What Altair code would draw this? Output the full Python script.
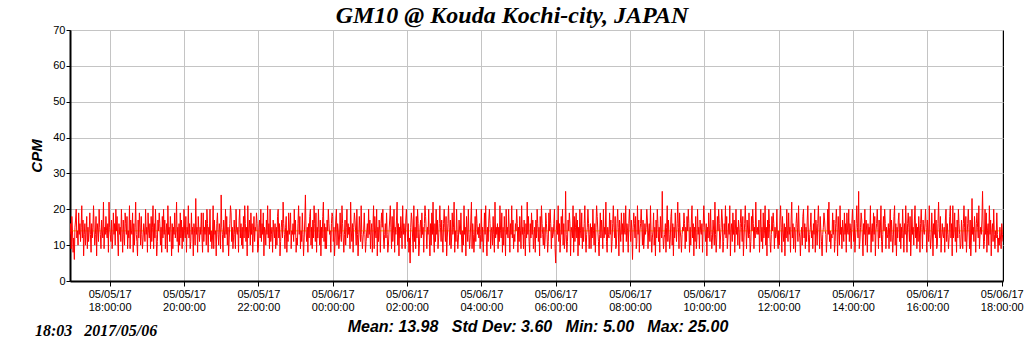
import altair as alt
import pandas as pd

# ---- data (counts per minute) ----
start_time = "2017-05-05 16:56:00"
step_minutes = 1
cpm = [
    13,16,9,18,14,8,12,6,15,17,20,12,14,10,19,13,16,11,15,21,12,17,7,13,16,10,14,18,9,15,
    11,14,19,13,8,16,12,15,21,14,10,13,18,7,16,14,11,20,15,13,9,17,14,12,22,9,15,13,18,14,
    12,16,8,22,15,13,11,17,9,12,19,13,16,10,20,14,18,12,7,16,13,15,11,20,14,8,17,13,10,19,
    16,13,18,9,14,12,21,9,17,14,13,19,8,16,10,15,22,13,11,7,17,12,19,15,10,18,13,9,12,16,
    14,11,20,13,15,8,19,14,12,16,9,18,11,15,21,9,16,12,20,13,7,11,17,14,19,16,10,15,8,18,
    12,20,13,17,9,14,16,8,21,13,15,11,18,14,7,16,9,15,13,19,12,14,22,11,15,8,16,10,19,12,
    17,9,15,11,20,14,12,18,8,15,13,21,12,16,9,11,19,13,15,7,16,14,10,23,13,15,8,18,14,11,
    15,13,19,12,8,19,11,15,13,17,10,20,16,8,15,13,20,11,14,9,12,21,9,17,13,14,7,16,19,13,
    10,16,14,9,24,15,13,8,17,14,12,20,13,18,10,15,7,12,16,21,19,11,15,9,12,17,13,9,20,14,
    13,15,8,17,20,12,16,10,15,9,18,12,21,16,11,15,7,21,12,14,17,10,19,13,16,8,14,18,11,15,
    14,19,16,8,9,15,17,12,20,11,16,13,19,7,15,14,10,17,13,21,12,16,9,20,11,13,15,8,17,14,
    12,16,9,15,10,18,20,12,16,7,11,15,17,12,22,16,13,9,15,18,8,14,11,19,13,15,19,9,14,13,
    16,11,20,13,17,8,12,10,16,21,13,18,9,14,11,19,13,7,12,17,24,14,11,15,8,16,12,18,20,10,
    15,9,17,12,21,16,11,19,8,15,12,20,14,10,17,7,15,12,18,22,11,16,9,15,9,17,14,20,16,13,
    14,8,16,19,18,11,15,7,12,17,20,10,16,14,9,12,19,13,11,21,16,12,8,13,17,10,15,20,12,16,
    13,15,9,22,14,11,16,8,15,19,17,14,10,20,13,7,12,18,14,11,21,13,9,12,14,19,13,8,11,14,
    16,12,20,13,17,9,14,16,8,15,21,9,18,14,12,20,7,15,11,17,14,8,16,19,15,20,12,9,13,16,
    12,19,13,8,10,14,17,21,15,9,18,11,14,20,8,15,13,17,22,10,16,7,15,12,18,14,9,21,13,16,
    14,9,17,20,15,11,16,8,12,5,15,19,17,12,8,21,11,15,9,18,12,20,16,7,10,15,17,12,19,13,
    15,8,16,21,18,14,9,15,13,20,12,7,16,10,19,13,22,12,8,16,11,20,13,17,9,12,16,21,15,11,
    17,12,8,16,20,15,11,18,7,12,16,21,15,10,17,9,12,19,13,15,22,8,14,11,20,13,9,12,17,14,
    13,19,12,8,14,10,21,13,15,7,18,14,11,20,13,9,12,17,22,9,16,13,8,12,18,11,20,16,13,15,
    12,16,9,13,20,11,15,8,12,19,13,21,12,7,15,11,17,20,16,9,14,15,10,18,13,8,22,12,15,13,
    16,9,15,11,21,14,12,19,8,15,10,18,14,7,20,13,15,12,20,14,8,16,13,21,12,17,9,13,11,16,
    14,20,16,8,15,11,18,14,9,21,13,15,9,17,13,7,16,12,22,13,18,11,8,16,12,19,13,17,9,12,
    15,8,17,12,20,16,11,15,7,18,12,21,16,13,10,15,9,12,19,16,13,8,11,19,14,20,16,9,15,12,
    13,16,20,9,5,14,17,13,21,11,16,8,12,18,13,20,10,16,9,12,25,13,8,11,17,14,19,16,7,15,
    14,12,21,8,18,11,15,19,12,17,7,15,10,20,14,12,19,9,15,11,16,21,12,8,13,15,20,16,9,13,
    16,9,15,12,20,14,10,16,8,15,21,18,14,11,7,13,19,12,17,14,9,20,12,15,13,22,11,8,15,13,
    12,19,13,17,8,11,16,21,15,12,18,9,10,16,20,15,7,17,14,11,19,13,16,8,19,14,13,21,11,16,
    14,8,16,20,15,11,17,14,6,15,19,16,12,18,9,11,21,13,17,8,14,16,20,15,10,17,9,12,16,13,
    15,20,17,9,14,16,11,21,13,8,12,14,19,10,15,7,17,12,20,16,11,15,8,18,14,12,25,13,9,12,
    13,16,8,15,21,11,17,13,9,12,18,20,10,16,7,15,12,19,14,11,16,22,15,9,19,14,12,8,13,15,
    14,19,16,9,15,11,18,14,20,16,8,15,10,17,21,12,16,7,15,11,18,9,12,20,13,15,9,17,14,13,
    16,8,15,21,17,14,11,16,7,15,12,19,14,11,20,13,9,12,17,14,10,22,13,8,12,18,14,20,16,9,
    12,15,20,17,8,11,16,13,21,12,18,9,12,16,13,21,7,14,16,11,19,13,17,8,14,20,13,15,10,17,
    14,9,16,20,15,11,18,7,12,16,21,15,9,17,14,12,19,13,8,11,18,14,20,16,9,15,12,22,14,13,
    15,13,17,8,14,20,11,15,9,19,12,14,21,10,15,7,17,12,20,16,11,8,13,18,14,19,16,9,15,12,
    13,20,12,9,14,10,17,21,15,8,18,14,11,16,7,15,12,20,14,11,19,13,15,8,17,22,12,16,9,15,
    14,8,16,19,15,11,21,14,12,7,13,15,10,18,20,12,16,9,15,11,17,21,12,8,13,15,19,12,14,9,
    16,13,20,8,17,14,10,16,21,15,9,18,14,11,7,13,15,19,17,14,13,8,12,20,13,22,11,14,9,13,
    12,19,13,17,8,11,16,20,15,7,18,14,10,21,13,15,9,17,14,11,19,13,16,8,19,14,13,20,11,16,
    14,9,16,20,15,11,17,8,12,16,21,15,12,25,9,11,15,19,17,12,7,16,13,20,10,17,14,8,16,13,
    15,13,21,8,14,16,11,19,13,18,7,14,16,20,15,9,17,12,14,21,11,8,13,18,14,20,16,9,15,12,
    13,16,9,15,20,11,17,13,8,12,18,21,10,16,7,15,12,17,19,11,16,9,15,12,20,14,8,16,13,21,
    14,8,16,19,15,11,18,7,12,20,13,15,10,17,21,12,16,9,15,11,18,14,8,16,20,15,9,17,14,13,
    16,20,15,8,17,14,11,21,13,9,12,19,14,7,16,13,20,12,17,9,10,16,22,15,12,18,8,12,16,13,
    12,15,8,17,20,11,16,13,9,12,18,21,12,16,7,21,12,14,19,11,15,8,17,12,20,16,13,9,10,17,
    14,9,16,21,15,11,18,8,12,16,20,15,9,17,7,12,23,13,15,11,18,14,8,16,19,15,12,21,9,13,
    15,13,17,25,14,9,11,20,13,19,8,14,16,10,21,13,17,7,14,16,11,20,13,9,14,12,19,13,8,12,
    10,15,12,9,16,13,11,
]
mean_value = [13.98]
NB = "\u00a0\u00a0\u00a0"
title_text = ["GM10 @ Kouda Kochi-city, JAPAN"]
stamp_text = ["18:03" + NB + "2017/05/06"]
stats_text = ["Mean: 13.98" + NB + "Std Dev: 3.60" + NB + "Min: 5.00" + NB + "Max: 25.00"]
y_ticks = [0, 10, 20, 30, 40, 50, 60, 70]
x_tick_times = ["2017-05-05T18:00:00", "2017-05-05T20:00:00", "2017-05-05T22:00:00",
                "2017-05-06T00:00:00", "2017-05-06T02:00:00", "2017-05-06T04:00:00",
                "2017-05-06T06:00:00", "2017-05-06T08:00:00", "2017-05-06T10:00:00",
                "2017-05-06T12:00:00", "2017-05-06T14:00:00", "2017-05-06T16:00:00",
                "2017-05-06T18:00:00"]

times = pd.date_range(start=start_time, periods=len(cpm), freq=f"{step_minutes}min")
df = pd.DataFrame({"time": times.strftime("%Y-%m-%dT%H:%M:%S"), "cpm": cpm})


def dt(s):
    ts = pd.Timestamp(s)
    return alt.DateTime(year=ts.year, month=ts.month, date=ts.day,
                        hours=ts.hour, minutes=ts.minute)


x_scale = alt.Scale(domain=[dt("2017-05-05T16:56:00"), dt("2017-05-06T18:02:00")],
                    nice=False)
y_scale = alt.Scale(domain=[0, 70], nice=False)

x_axis = alt.Axis(
    title=None,
    values=[dt(s) for s in x_tick_times],
    labelExpr="[timeFormat(datum.value, '%m/%d/%y'), timeFormat(datum.value, '%H:%M:%S')]",
    labelLineHeight=13,
    labelFontSize=11,
    labelFont="Liberation Sans",
    labelColor="black",
    labelPadding=2,
    tickSize=5,
    tickColor="black",
    domainColor="black",
    domainWidth=2,
    grid=True,
    gridColor="#c4c4c4",
    gridWidth=1,
    labelFlush=False,
    labelOverlap=False,
)
y_axis = alt.Axis(
    title="CPM",
    titleFont="Liberation Sans",
    titleFontSize=15,
    titleFontStyle="italic",
    titleFontWeight="bold",
    titleColor="black",
    titlePadding=8,
    values=y_ticks,
    labelOverlap=False,
    labelFontSize=11,
    labelFont="Liberation Sans",
    labelColor="black",
    labelPadding=1,
    tickSize=4,
    tickColor="black",
    domainColor="black",
    domainWidth=2,
    grid=True,
    gridColor="#c4c4c4",
    gridWidth=1,
)

mean_rule = alt.Chart(pd.DataFrame({"m": mean_value})).mark_rule(
    color="#e6d800", strokeWidth=1
).encode(y=alt.Y("m:Q", scale=y_scale, axis=y_axis))

line = alt.Chart(df).mark_line(color="#ff0000", strokeWidth=1, clip=True).encode(
    x=alt.X("time:T", scale=x_scale, axis=x_axis),
    y=alt.Y("cpm:Q", scale=y_scale, axis=y_axis),
)

title = alt.Chart(pd.DataFrame({"t": title_text})).mark_text(
    font="Liberation Serif", fontSize=24, fontStyle="italic", fontWeight="bold",
    color="black", align="center", baseline="middle"
).encode(text="t:N", x=alt.value(442), y=alt.value(-14))

stamp = alt.Chart(pd.DataFrame({"t": stamp_text})).mark_text(
    font="Liberation Serif", fontSize=16, fontStyle="italic", fontWeight="bold",
    color="black", align="left", baseline="middle"
).encode(text="t:N", x=alt.value(-35), y=alt.value(50 + 251))

stats = alt.Chart(pd.DataFrame({"t": stats_text})).mark_text(
    font="Liberation Sans", fontSize=16, fontStyle="italic", fontWeight="bold",
    color="black", align="center", baseline="middle"
).encode(text="t:N", x=alt.value(468), y=alt.value(46 + 251))

chart = alt.layer(mean_rule, line, title, stamp, stats).properties(
    width=933,
    height=251,
    padding={"left": 70, "top": 30, "right": 21, "bottom": 70},
    autosize=alt.AutoSizeParams(type="none"),
    background="white",
).configure_view(stroke="black", strokeWidth=1)

chart.save("out.html", embed_options={"renderer": "svg", "actions": False})
